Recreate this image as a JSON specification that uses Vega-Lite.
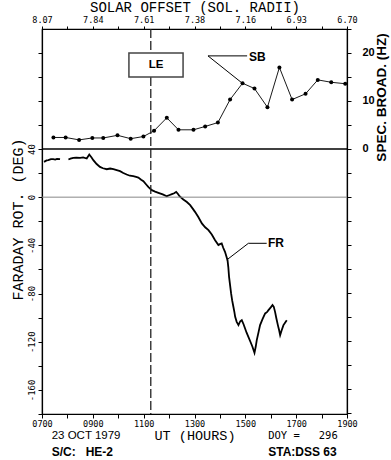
{
  "$schema": "https://vega.github.io/schema/vega-lite/v6.json",
  "width": 305,
  "height": 385,
  "autosize": {"type": "none"},
  "padding": {"left": 42, "top": 29, "right": 44, "bottom": 46},
  "background": "white",
  "config": {
    "view": {"stroke": "black", "strokeWidth": 1.2},
    "axis": {"grid": false, "domainColor": "black", "tickColor": "black", "labelColor": "black", "titleColor": "black", "labelOverlap": false, "labelFlush": false, "domainWidth": 1.2, "tickWidth": 1}
  },
  "datasets": {
    "sb": [
      {"t": 7.45, "sb": 2.4}, {"t": 7.93, "sb": 2.4}, {"t": 8.46, "sb": 1.9}, {"t": 8.98, "sb": 2.3},
      {"t": 9.41, "sb": 2.3}, {"t": 9.97, "sb": 2.85}, {"t": 10.49, "sb": 2.15}, {"t": 10.99, "sb": 2.6},
      {"t": 11.41, "sb": 3.8}, {"t": 11.91, "sb": 6.5}, {"t": 12.37, "sb": 4.0}, {"t": 12.96, "sb": 4.0},
      {"t": 13.42, "sb": 4.7}, {"t": 13.92, "sb": 5.5}, {"t": 14.40, "sb": 10.3}, {"t": 14.89, "sb": 13.7},
      {"t": 15.36, "sb": 12.6}, {"t": 15.87, "sb": 8.7}, {"t": 16.34, "sb": 17.0}, {"t": 16.84, "sb": 10.3},
      {"t": 17.37, "sb": 11.5}, {"t": 17.85, "sb": 14.4}, {"t": 18.38, "sb": 13.9}, {"t": 18.93, "sb": 13.6}
    ],
    "fr": [
      {"seg": 1, "t": 7.08, "fr": 29.3}, {"seg": 1, "t": 7.18, "fr": 30.5}, {"seg": 1, "t": 7.25, "fr": 30.7},
      {"seg": 1, "t": 7.35, "fr": 31.6}, {"seg": 1, "t": 7.44, "fr": 31.5}, {"seg": 1, "t": 7.52, "fr": 31.2},
      {"seg": 1, "t": 7.59, "fr": 31.8}, {"seg": 1, "t": 7.71, "fr": 31.5},
      {"seg": 2, "t": 8.04, "fr": 31.3}, {"seg": 2, "t": 8.12, "fr": 32.0}, {"seg": 2, "t": 8.23, "fr": 32.6},
      {"seg": 2, "t": 8.35, "fr": 32.9}, {"seg": 2, "t": 8.50, "fr": 32.6}, {"seg": 2, "t": 8.62, "fr": 33.0},
      {"seg": 2, "t": 8.76, "fr": 32.1}, {"seg": 2, "t": 8.86, "fr": 35.4}, {"seg": 2, "t": 8.95, "fr": 33.0},
      {"seg": 2, "t": 9.02, "fr": 30.7}, {"seg": 2, "t": 9.15, "fr": 27.5}, {"seg": 2, "t": 9.28, "fr": 25.1},
      {"seg": 2, "t": 9.40, "fr": 24.0}, {"seg": 2, "t": 9.55, "fr": 23.2}, {"seg": 2, "t": 9.68, "fr": 23.8},
      {"seg": 2, "t": 9.81, "fr": 23.2}, {"seg": 2, "t": 9.94, "fr": 22.4}, {"seg": 2, "t": 10.07, "fr": 21.6},
      {"seg": 2, "t": 10.20, "fr": 20.1}, {"seg": 2, "t": 10.33, "fr": 18.8}, {"seg": 2, "t": 10.46, "fr": 17.8},
      {"seg": 2, "t": 10.59, "fr": 17.4}, {"seg": 2, "t": 10.70, "fr": 16.8}, {"seg": 2, "t": 10.79, "fr": 16.3},
      {"seg": 2, "t": 10.90, "fr": 14.5}, {"seg": 2, "t": 10.99, "fr": 13.3}, {"seg": 2, "t": 11.10, "fr": 10.5},
      {"seg": 2, "t": 11.19, "fr": 8.3}, {"seg": 2, "t": 11.32, "fr": 5.8}, {"seg": 2, "t": 11.45, "fr": 4.6},
      {"seg": 2, "t": 11.58, "fr": 3.6}, {"seg": 2, "t": 11.75, "fr": 2.3}, {"seg": 2, "t": 11.91, "fr": 0.8},
      {"seg": 2, "t": 12.00, "fr": 1.6}, {"seg": 2, "t": 12.11, "fr": 2.5}, {"seg": 2, "t": 12.20, "fr": 3.2},
      {"seg": 2, "t": 12.28, "fr": 4.4}, {"seg": 2, "t": 12.35, "fr": 2.6}, {"seg": 2, "t": 12.41, "fr": 0.8},
      {"seg": 2, "t": 12.56, "fr": -1.9}, {"seg": 2, "t": 12.70, "fr": -4.0}, {"seg": 2, "t": 12.83, "fr": -6.6},
      {"seg": 2, "t": 12.93, "fr": -9.5}, {"seg": 2, "t": 13.02, "fr": -12.2}, {"seg": 2, "t": 13.15, "fr": -16.5},
      {"seg": 2, "t": 13.29, "fr": -21.8}, {"seg": 2, "t": 13.42, "fr": -25.0}, {"seg": 2, "t": 13.55, "fr": -27.4},
      {"seg": 2, "t": 13.68, "fr": -31.0}, {"seg": 2, "t": 13.81, "fr": -35.7}, {"seg": 2, "t": 13.94, "fr": -39.8},
      {"seg": 2, "t": 14.00, "fr": -39.0}, {"seg": 2, "t": 14.07, "fr": -38.4}, {"seg": 2, "t": 14.13, "fr": -42.0},
      {"seg": 2, "t": 14.20, "fr": -45.4}, {"seg": 2, "t": 14.30, "fr": -52.3}, {"seg": 2, "t": 14.33, "fr": -58.0},
      {"seg": 2, "t": 14.36, "fr": -66.1}, {"seg": 2, "t": 14.40, "fr": -73.0}, {"seg": 2, "t": 14.44, "fr": -79.9},
      {"seg": 2, "t": 14.48, "fr": -85.5}, {"seg": 2, "t": 14.53, "fr": -91.0}, {"seg": 2, "t": 14.57, "fr": -95.5},
      {"seg": 2, "t": 14.60, "fr": -99.3}, {"seg": 2, "t": 14.66, "fr": -103.5}, {"seg": 2, "t": 14.73, "fr": -106.2},
      {"seg": 2, "t": 14.80, "fr": -103.0}, {"seg": 2, "t": 14.86, "fr": -102.1}, {"seg": 2, "t": 14.93, "fr": -105.5},
      {"seg": 2, "t": 14.99, "fr": -109.0}, {"seg": 2, "t": 15.05, "fr": -112.5}, {"seg": 2, "t": 15.12, "fr": -115.9},
      {"seg": 2, "t": 15.20, "fr": -120.0}, {"seg": 2, "t": 15.28, "fr": -124.2}, {"seg": 2, "t": 15.36, "fr": -129.2},
      {"seg": 2, "t": 15.41, "fr": -124.0}, {"seg": 2, "t": 15.45, "fr": -118.7}, {"seg": 2, "t": 15.52, "fr": -112.0},
      {"seg": 2, "t": 15.58, "fr": -106.2}, {"seg": 2, "t": 15.68, "fr": -101.0}, {"seg": 2, "t": 15.78, "fr": -96.5},
      {"seg": 2, "t": 15.85, "fr": -95.5}, {"seg": 2, "t": 15.91, "fr": -93.8}, {"seg": 2, "t": 16.00, "fr": -91.5},
      {"seg": 2, "t": 16.07, "fr": -89.6}, {"seg": 2, "t": 16.12, "fr": -91.0}, {"seg": 2, "t": 16.17, "fr": -95.2},
      {"seg": 2, "t": 16.22, "fr": -100.5}, {"seg": 2, "t": 16.28, "fr": -106.2}, {"seg": 2, "t": 16.33, "fr": -110.5},
      {"seg": 2, "t": 16.37, "fr": -114.5}, {"seg": 2, "t": 16.43, "fr": -110.5}, {"seg": 2, "t": 16.50, "fr": -106.2},
      {"seg": 2, "t": 16.57, "fr": -104.0}, {"seg": 2, "t": 16.63, "fr": -102.1}
    ]
  },
  "layer": [
    {
      "data": {"name": "fr"},
      "mark": {"type": "line", "color": "black", "strokeWidth": 1.8},
      "encoding": {
        "x": {"field": "t", "type": "quantitative", "scale": {"domain": [7, 19], "nice": false, "zero": false},
          "axis": {"orient": "bottom", "values": [7,8,9,10,11,12,13,14,15,16,17,18,19], "tickSize": 4,
            "labelExpr": "datum.value % 2 == 1 ? (datum.value < 10 ? '0' : '') + datum.value * 100 : ''",
            "labelFont": "DejaVu Sans Mono", "labelFontSize": 8.5, "labelPadding": 1,
            "title": "UT (HOURS)", "titleFont": "Liberation Mono", "titleFontSize": 13.5, "titleFontWeight": "normal", "titlePadding": 1}},
        "y": {"field": "fr", "type": "quantitative", "scale": {"domain": [-180, 139.6], "nice": false, "zero": false},
          "axis": {"orient": "left", "values": [-180,-160,-140,-120,-100,-80,-60,-40,-20,0,20,40,60,80,100,120], "tickSize": 4,
            "labelExpr": "datum.value <= 40 && datum.value > -180 && datum.value % 40 == 0 ? '' + datum.value : ''",
            "labelAngle": 270, "labelAlign": "center", "labelBaseline": "bottom", "labelPadding": 2,
            "labelFont": "DejaVu Sans Mono", "labelFontSize": 9,
            "title": "FARADAY ROT. (DEG)", "titleFont": "Liberation Mono", "titleFontSize": 15, "titleFontWeight": "normal",
            "titleAngle": 270, "titleAlign": "center", "titleBaseline": "middle", "titleX": -25, "titleY": 190}},
        "detail": {"field": "seg", "type": "nominal"}
      }
    },
    {
      "data": {"name": "sb"},
      "mark": {"type": "line", "color": "black", "strokeWidth": 0.9, "point": {"filled": true, "color": "black", "size": 16, "opacity": 1}},
      "encoding": {
        "x": {"field": "t", "type": "quantitative", "scale": {"domain": [7, 19], "nice": false, "zero": false},
          "axis": {"orient": "top", "values": [7,8,9,10,11,12,13,14,15,16,17,18,19], "tickSize": 3,
            "labelExpr": "datum.value % 2 == 1 ? ['8.07','7.84','7.61','7.38','7.16','6.93','6.70'][(datum.value - 7) / 2] : ''",
            "labelFont": "DejaVu Sans Mono", "labelFontSize": 8.5, "labelPadding": 2,
            "title": "SOLAR OFFSET (SOL. RADII)", "titleFont": "Liberation Mono", "titleFontSize": 14, "titleFontWeight": "normal", "titlePadding": 1}},
        "y": {"field": "sb", "type": "quantitative", "scale": {"domain": [-55.21, 25], "nice": false, "zero": false},
          "axis": {"orient": "right", "values": [25,20,15,10,5,0,-5,-10,-15,-20,-25,-30,-35,-40,-45,-50,-55], "tickSize": 4,
            "labelExpr": "datum.value >= 0 && datum.value % 10 == 0 ? '' + datum.value : ''",
            "labelAlign": "left", "labelPadding": 11, "labelFont": "Liberation Sans", "labelFontWeight": "bold", "labelFontSize": 11,
            "title": "SPEC. BROAD. (HZ)", "titleFont": "Liberation Sans", "titleFontWeight": "bold", "titleFontSize": 13.5,
            "titleAngle": 270, "titleAlign": "center", "titleBaseline": "middle", "titleX": 34, "titleY": 68}}
      }
    },
    {
      "layer": [
        {
          "data": {"values": [{}]},
          "mark": {"type": "rule", "color": "#888888", "strokeWidth": 1},
          "encoding": {"y": {"datum": 0, "type": "quantitative", "axis": null, "scale": {"domain": [-180, 139.6], "nice": false, "zero": false}}}
        },
        {
          "data": {"values": [{}]},
          "mark": {"type": "rule", "color": "black", "strokeWidth": 1.3},
          "encoding": {"y": {"datum": 40, "type": "quantitative", "axis": null, "scale": {"domain": [-180, 139.6], "nice": false, "zero": false}}}
        },
        {
          "data": {"values": [{}]},
          "mark": {"type": "rule", "color": "#222222", "strokeWidth": 1.3, "strokeDash": [9, 3]},
          "encoding": {"x": {"datum": 11.28, "type": "quantitative", "axis": null, "scale": {"domain": [7, 19], "nice": false, "zero": false}}}
        },
        {
          "data": {"values": [{}]},
          "mark": {"type": "rule", "color": "black", "strokeWidth": 1},
          "encoding": {
            "x": {"datum": 15.84, "type": "quantitative", "axis": null, "scale": {"domain": [7, 19], "nice": false, "zero": false}},
            "x2": {"datum": 15.12},
            "y": {"datum": -38.3, "type": "quantitative", "axis": null, "scale": {"domain": [-180, 139.6], "nice": false, "zero": false}},
            "y2": {"datum": -38.3}
          }
        },
        {
          "data": {"values": [{}]},
          "mark": {"type": "rule", "color": "black", "strokeWidth": 1},
          "encoding": {
            "x": {"datum": 15.12, "type": "quantitative", "axis": null, "scale": {"domain": [7, 19], "nice": false, "zero": false}},
            "x2": {"datum": 14.27},
            "y": {"datum": -38.3, "type": "quantitative", "axis": null, "scale": {"domain": [-180, 139.6], "nice": false, "zero": false}},
            "y2": {"datum": -52.1}
          }
        },
        {
          "data": {"values": [{"txt": "FR"}]},
          "mark": {"type": "text", "align": "left", "baseline": "middle", "font": "Liberation Sans", "fontWeight": "bold", "fontSize": 12, "color": "black"},
          "encoding": {
            "text": {"field": "txt"},
            "x": {"datum": 15.89, "type": "quantitative", "axis": null, "scale": {"domain": [7, 19], "nice": false, "zero": false}},
            "y": {"datum": -38.3, "type": "quantitative", "axis": null, "scale": {"domain": [-180, 139.6], "nice": false, "zero": false}}
          }
        },
        {
          "data": {"values": [{"txt": "23 OCT 1979"}]},
          "mark": {"type": "text", "align": "left", "baseline": "middle", "font": "Liberation Sans", "fontSize": 11.5, "color": "black"},
          "encoding": {
            "text": {"field": "txt"},
            "x": {"datum": 7.38, "type": "quantitative", "axis": null, "scale": {"domain": [7, 19], "nice": false, "zero": false}},
            "y": {"datum": -198, "type": "quantitative", "axis": null, "scale": {"domain": [-180, 139.6], "nice": false, "zero": false}}
          }
        },
        {
          "data": {"values": [{"txt": "DOY =\u00a0\u00a0\u00a0296"}]},
          "mark": {"type": "text", "align": "left", "baseline": "middle", "font": "DejaVu Sans Mono", "fontSize": 10.5, "color": "black"},
          "encoding": {
            "text": {"field": "txt"},
            "x": {"datum": 15.9, "type": "quantitative", "axis": null, "scale": {"domain": [7, 19], "nice": false, "zero": false}},
            "y": {"datum": -198, "type": "quantitative", "axis": null, "scale": {"domain": [-180, 139.6], "nice": false, "zero": false}}
          }
        },
        {
          "data": {"values": [{"txt": "S/C:\u00a0\u00a0\u00a0HE-2"}]},
          "mark": {"type": "text", "align": "left", "baseline": "middle", "font": "Liberation Sans", "fontWeight": "bold", "fontSize": 12, "color": "black"},
          "encoding": {
            "text": {"field": "txt"},
            "x": {"datum": 7.38, "type": "quantitative", "axis": null, "scale": {"domain": [7, 19], "nice": false, "zero": false}},
            "y": {"datum": -211.8, "type": "quantitative", "axis": null, "scale": {"domain": [-180, 139.6], "nice": false, "zero": false}}
          }
        },
        {
          "data": {"values": [{"txt": "STA:DSS 63"}]},
          "mark": {"type": "text", "align": "left", "baseline": "middle", "font": "Liberation Sans", "fontWeight": "bold", "fontSize": 12, "color": "black"},
          "encoding": {
            "text": {"field": "txt"},
            "x": {"datum": 15.9, "type": "quantitative", "axis": null, "scale": {"domain": [7, 19], "nice": false, "zero": false}},
            "y": {"datum": -211.8, "type": "quantitative", "axis": null, "scale": {"domain": [-180, 139.6], "nice": false, "zero": false}}
          }
        }
      ]
    },
    {
      "layer": [
        {
          "data": {"values": [{}]},
          "mark": {"type": "rect", "fill": "white", "stroke": "#444444", "strokeWidth": 1.5},
          "encoding": {
            "x": {"datum": 10.42, "type": "quantitative", "axis": null, "scale": {"domain": [7, 19], "nice": false, "zero": false}},
            "x2": {"datum": 12.55},
            "y": {"datum": 20, "type": "quantitative", "axis": null, "scale": {"domain": [-55.21, 25], "nice": false, "zero": false}},
            "y2": {"datum": 15}
          }
        },
        {
          "data": {"values": [{"txt": "LE"}]},
          "mark": {"type": "text", "align": "center", "baseline": "middle", "font": "Liberation Sans", "fontWeight": "bold", "fontSize": 11.5, "color": "black"},
          "encoding": {
            "text": {"field": "txt"},
            "x": {"datum": 11.49, "type": "quantitative", "axis": null, "scale": {"domain": [7, 19], "nice": false, "zero": false}},
            "y": {"datum": 17.5, "type": "quantitative", "axis": null, "scale": {"domain": [-55.21, 25], "nice": false, "zero": false}}
          }
        },
        {
          "data": {"values": [{}]},
          "mark": {"type": "rule", "color": "black", "strokeWidth": 1},
          "encoding": {
            "x": {"datum": 15.07, "type": "quantitative", "axis": null, "scale": {"domain": [7, 19], "nice": false, "zero": false}},
            "x2": {"datum": 13.53},
            "y": {"datum": 19.4, "type": "quantitative", "axis": null, "scale": {"domain": [-55.21, 25], "nice": false, "zero": false}},
            "y2": {"datum": 19.4}
          }
        },
        {
          "data": {"values": [{}]},
          "mark": {"type": "rule", "color": "black", "strokeWidth": 1},
          "encoding": {
            "x": {"datum": 13.53, "type": "quantitative", "axis": null, "scale": {"domain": [7, 19], "nice": false, "zero": false}},
            "x2": {"datum": 14.87},
            "y": {"datum": 19.4, "type": "quantitative", "axis": null, "scale": {"domain": [-55.21, 25], "nice": false, "zero": false}},
            "y2": {"datum": 13.75}
          }
        },
        {
          "data": {"values": [{"txt": "SB"}]},
          "mark": {"type": "text", "align": "left", "baseline": "middle", "font": "Liberation Sans", "fontWeight": "bold", "fontSize": 12, "color": "black"},
          "encoding": {
            "text": {"field": "txt"},
            "x": {"datum": 15.14, "type": "quantitative", "axis": null, "scale": {"domain": [7, 19], "nice": false, "zero": false}},
            "y": {"datum": 19.2, "type": "quantitative", "axis": null, "scale": {"domain": [-55.21, 25], "nice": false, "zero": false}}
          }
        }
      ]
    }
  ],
  "resolve": {"scale": {"y": "independent"}, "axis": {"x": "independent", "y": "independent"}}
}
